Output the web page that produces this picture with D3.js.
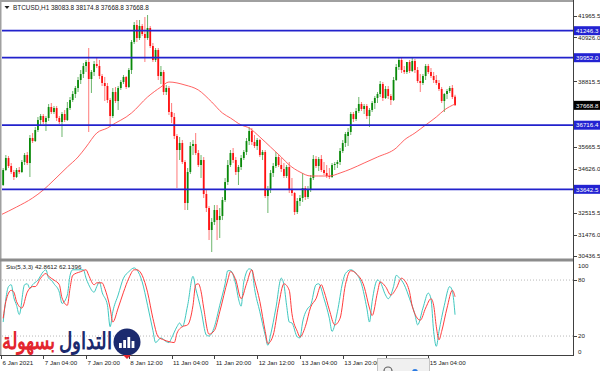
<!DOCTYPE html>
<html>
<head>
<meta charset="utf-8">
<script src="https://cdn.jsdelivr.net/npm/d3@7"></script>
<style>
  body { margin: 0; background: #fff; }
  text { font-family: "Liberation Sans", Arial, sans-serif; }
</style>
</head>
<body>
<svg id="chart" width="600" height="371"></svg>
<script>
// BTCUSD H1 candles, 6 Jan 2021 12:00 -> 15 Jan 2021 14:00
var openP = [
  34089, 33849, 34568, 35143, 34760, 34472, 34233, 34568, 34472, 34952,
  35287, 34904, 36102, 35958, 36486, 36965, 37157, 36869, 37061, 37588,
  37349, 37540, 37061, 36869, 37253, 36965, 37540, 37924, 38212, 38499,
  38883, 39170, 39554, 39746, 38931, 39266, 39650, 39554, 39075, 38739,
  38595, 37924, 37157, 38308, 37876, 38499, 38787, 39027, 38547, 39362,
  40705, 41520, 40896, 41472, 41088, 40896, 41376, 40513, 39842, 40321,
  39075, 39266, 38308, 38499, 37349, 37109, 36198, 35527, 35863, 34952,
  32986, 34472, 35719, 35815, 35383, 34808, 35048, 33418, 32747, 31692,
  32075, 32651, 32171, 32363, 33130, 33993, 34808, 35383, 35048, 34472,
  34712, 35143, 35431, 35958, 36438, 35911, 35719, 36006, 35287, 35431,
  33322, 33609, 34424, 34760, 35191, 34808, 34616, 34281, 34712, 33609,
  33466, 32555, 33082, 33226, 33705, 33274, 33609, 34185, 35096, 34760,
  35096, 34568, 34424, 34281, 34233, 34808, 34856, 34952, 35479, 35863,
  36198, 36390, 37253, 37013, 37397, 37732, 37493, 37636, 37157, 37445,
  37780, 38020, 38212, 38691, 38020, 38451, 38116, 37924, 38883, 39506,
  39842, 39362, 39266, 39746, 39314, 39794, 39362, 38835, 38739, 39075,
  39554, 39266, 39075, 38883, 38739, 38451, 37876, 38212, 38355, 38499,
  38083.8
]
var highP = [
  34281, 34664, 35287, 35239, 34904, 34568, 34664, 34712, 35048, 35383,
  35431, 36246, 36342, 36630, 37109, 37253, 37253, 37157, 37732, 37780,
  37636, 37636, 37157, 37349, 37445, 37828, 38068, 38355, 38595, 39027,
  39362, 39698, 39842, 40417, 39362, 39794, 39985, 39842, 39170, 39027,
  38739, 38020, 38499, 38547, 38595, 38883, 39122, 39075, 39458, 40800,
  41663, 41759, 41759, 41567, 41903, 41999, 41472, 40657, 40417, 40417,
  39554, 39362, 38643, 38595, 37780, 37301, 36294, 36150, 36006, 35048,
  34664, 35911, 36006, 36342, 35527, 35287, 35191, 33609, 32842, 32267,
  32890, 32890, 32747, 33274, 34185, 35048, 35527, 35623, 35191, 34808,
  35287, 35527, 36102, 36630, 36582, 36246, 36102, 36054, 35527, 35527,
  33801, 34568, 34904, 35431, 35287, 35143, 34904, 34808, 34952, 34185,
  33513, 33226, 33370, 34424, 33801, 33801, 34329, 35287, 35239, 35191,
  35287, 34952, 34808, 34664, 34904, 34952, 35048, 35623, 36006, 36390,
  36582, 37349, 37349, 37540, 38068, 37828, 37732, 37732, 37540, 37876,
  38116, 38308, 38835, 38787, 38595, 38595, 38212, 39027, 39650, 39985,
  39937, 39554, 39554, 39842, 39985, 39890, 39506, 39170, 39170, 39650,
  39650, 39458, 39266, 39122, 38883, 38547, 38260, 38451, 38595, 38643,
  38174.8
]
var lowP = [
  33609, 33801, 34520, 34664, 34376, 34089, 34185, 34376, 34424, 34808,
  34808, 34233, 35863, 35911, 36390, 36726, 36773, 36438, 36917, 37253,
  37253, 36917, 36773, 36150, 36869, 36917, 37445, 37828, 38020, 38308,
  38691, 38979, 39266, 36390, 38260, 39075, 39458, 38931, 38595, 37876,
  37780, 36726, 37061, 37780, 37445, 38403, 38691, 38451, 38499, 39170,
  40609, 40705, 40800, 40992, 39746, 40800, 40417, 39746, 39746, 38883,
  38691, 38164, 38164, 37205, 36821, 36054, 33705, 35048, 34856, 32651,
  32651, 34376, 35287, 35287, 34712, 34185, 33226, 32555, 31212, 30637,
  31932, 31212, 31308, 32171, 33034, 33849, 34712, 34904, 34329, 33849,
  34568, 35048, 35287, 35767, 35767, 35623, 35527, 35191, 35048, 33226,
  32507, 33466, 34233, 34664, 34712, 34472, 34185, 34185, 33466, 33322,
  32411, 32459, 32842, 33034, 33130, 33178, 33513, 34089, 34664, 34520,
  34472, 34329, 34185, 34137, 34185, 34568, 34664, 34808, 35383, 35671,
  35719, 36246, 36869, 36917, 37301, 37397, 37253, 37013, 36630, 37349,
  37493, 37780, 38068, 37876, 37972, 37972, 37684, 37876, 38835, 39362,
  39218, 39170, 39170, 39218, 39266, 39218, 38739, 38308, 38643, 38883,
  39170, 38979, 38739, 38643, 38355, 37780, 37349, 37972, 38260, 37972,
  37668.8
]
var closeP = [
  33849, 34568, 35143, 34760, 34472, 34233, 34568, 34472, 34952, 35287,
  34904, 36102, 35958, 36486, 36965, 37157, 36869, 37061, 37588, 37349,
  37540, 37061, 36869, 37253, 36965, 37540, 37924, 38212, 38499, 38883,
  39170, 39554, 39746, 38931, 39266, 39650, 39554, 39075, 38739, 38595,
  37924, 37157, 38308, 37876, 38499, 38787, 39027, 38547, 39362, 40705,
  41520, 40896, 41472, 41088, 40896, 41376, 40513, 39842, 40321, 39075,
  39266, 38308, 38499, 37349, 37109, 36198, 35527, 35863, 34952, 32986,
  34472, 35719, 35815, 35383, 34808, 35048, 33418, 32747, 31692, 32075,
  32651, 32171, 32363, 33130, 33993, 34808, 35383, 35048, 34472, 34712,
  35143, 35431, 35958, 36438, 35911, 35719, 36006, 35287, 35431, 33322,
  33609, 34424, 34760, 35191, 34808, 34616, 34281, 34712, 33609, 33466,
  32555, 33082, 33226, 33705, 33274, 33609, 34185, 35096, 34760, 35096,
  34568, 34424, 34281, 34233, 34808, 34856, 34952, 35479, 35863, 36294,
  36390, 37253, 37013, 37397, 37732, 37493, 37636, 37157, 37445, 37780,
  38020, 38212, 38691, 38020, 38451, 38116, 37924, 38883, 39506, 39842,
  39362, 39266, 39746, 39314, 39794, 39362, 38835, 38739, 39075, 39554,
  39266, 39075, 38883, 38739, 38451, 37876, 38212, 38355, 38499, 38068,
  37668.8
]

// moving average
var maBars = [0, 6, 12, 16, 20, 25, 29, 32, 36, 40, 43, 47, 49, 55, 60, 63, 69, 74, 79, 83, 86,
  90, 93, 97, 101, 105, 108, 112, 116, 119, 123, 127, 131, 136, 141, 148, 151, 155, 159, 163, 166, 170]
var maVals = [32410, 32794, 33226, 33609, 34089, 34712, 35191, 35671, 36342, 36582, 36821, 37109,
  37301, 38068, 38547, 38787, 38643, 38403, 37828, 37301, 37061, 36726, 36582, 36150, 35671, 35191,
  34808, 34472, 34281, 34281, 34281, 34424, 34616, 34904, 35191, 35623, 36006, 36342, 36726, 37109,
  37445, 37732]

// Sto(5,3,3) main and signal
var kBars = [1, 3, 4, 5, 6, 7, 9, 10, 11, 12, 14, 16, 17, 18, 19, 20, 22, 23, 25, 26, 27, 29, 31, 32,
  33, 35, 36, 37, 38, 40, 41, 42, 44, 46, 48, 50, 51, 53, 55, 57, 58, 60, 62, 63, 64, 66, 67, 68, 70,
  72, 73, 74, 75, 77, 78, 80, 82, 84, 85, 86, 88, 89, 90, 91, 93, 94, 95, 97, 99, 100, 101, 103, 105,
  106, 107, 108, 109, 111, 112, 113, 115, 116, 118, 119, 121, 123, 124, 126, 128, 129, 131, 133, 135,
  137, 138, 139, 141, 142, 144, 145, 147, 148, 149, 151, 153, 155, 156, 158, 160, 161, 162, 163, 164,
  166, 168, 169, 170]
var kVals = [35, 73, 75, 61, 53, 43, 75, 76, 71, 75, 80, 89, 91, 82, 80, 76, 67, 55, 64, 85, 91, 91, 91,
  82, 75, 67, 73, 78, 67, 53, 30, 46, 64, 82, 89, 93, 91, 78, 53, 26, 13, 18, 14, 13, 18, 30, 34, 30,
  53, 84, 71, 60, 48, 21, 20, 30, 53, 76, 90, 90, 75, 60, 52, 78, 92, 91, 71, 46, 21, 10, 21, 50, 82,
  75, 53, 35, 34, 19, 18, 35, 50, 53, 75, 76, 60, 39, 25, 46, 78, 87, 91, 87, 76, 50, 35, 57, 80, 78,
  64, 60, 73, 85, 83, 75, 60, 43, 32, 50, 66, 60, 25, 9, 25, 53, 73, 68, 42.8612]
var dBars = [1, 2, 4, 5, 6, 8, 10, 12, 13, 15, 17, 18, 20, 22, 23, 25, 26, 27, 30, 32, 33, 35, 36, 38,
  39, 41, 42, 44, 46, 48, 50, 51, 53, 55, 57, 59, 61, 63, 65, 66, 68, 70, 72, 73, 74, 75, 76, 78, 80,
  82, 85, 86, 88, 90, 92, 94, 95, 97, 99, 100, 102, 104, 106, 108, 109, 111, 112, 114, 116, 118, 120,
  121, 123, 125, 127, 129, 131, 133, 136, 138, 139, 141, 142, 144, 146, 148, 150, 151, 153, 154, 157,
  159, 161, 162, 163, 164, 165, 167, 169, 170]
var dVals = [39, 57, 69, 67, 57, 50, 67, 73, 73, 82, 87, 84, 80, 75, 61, 53, 71, 85, 89, 91, 85, 75, 77,
  77, 71, 50, 35, 50, 67, 82, 91, 91, 85, 67, 39, 19, 16, 14, 13, 23, 30, 32, 53, 75, 76, 68, 50, 22,
  26, 46, 80, 89, 80, 60, 76, 91, 80, 57, 25, 12, 21, 53, 76, 69, 44, 25, 19, 30, 51, 60, 75, 68, 48,
  32, 39, 75, 90, 87, 73, 50, 42, 67, 78, 73, 64, 71, 82, 80, 67, 52, 37, 50, 60, 53, 30, 16, 25, 50,
  69, 62.1396]

var levels = [41246.3, 39952.0, 36716.4, 33642.5]
var priceTicks = [41965.5, 40926.0, 38815.5, 35665.5, 34626.0, 32515.5, 31476.0, 30436.5]
var lastPrice = 37668.8
var stochTicks = [100, 80, 20, 0]
var stochLevels = [80, 20]
var timeBars = [0, 16, 32, 48, 64, 80, 96, 112, 128, 144, 160]
var timeLabels = ['6 Jan 2021', '7 Jan 04:00', '7 Jan 20:00', '8 Jan 12:00', '11 Jan 04:00',
  '11 Jan 20:00', '12 Jan 12:00', '13 Jan 04:00', '13 Jan 20:00', '14 Jan 12:00', '15 Jan 04:00']

var svg = d3.select('#chart')
var axisX = 573

var x = d3.scaleLinear().domain([0, 160]).range([0.5, 428.3])
var y = d3.scaleLinear().domain([30436.5, 41965.5]).range([256.2, 15.7])
var ys = d3.scaleLinear().domain([0, 100]).range([354.7, 261.4])

var defs = svg.append('defs')
defs.append('clipPath').attr('id', 'clipMain')
  .append('rect').attr('x', 2).attr('y', 3).attr('width', axisX - 2).attr('height', 255)
defs.append('clipPath').attr('id', 'clipSub')
  .append('rect').attr('x', 2).attr('y', 262).attr('width', axisX - 2).attr('height', 93)

// ---- main pane
var main = svg.append('g').attr('clip-path', 'url(#clipMain)')

var bars = d3.range(closeP.length).map(i => ({ i: i, o: openP[i], h: highP[i], l: lowP[i], c: closeP[i] }))

main.selectAll('.wick').data(bars).enter().append('line')
  .attr('class', 'wick')
  .attr('x1', d => x(d.i)).attr('x2', d => x(d.i))
  .attr('y1', d => y(d.h)).attr('y2', d => y(d.l))
  .attr('stroke', d => d.c >= d.o ? '#5cae5c' : '#ff6a6a')
  .attr('stroke-width', 0.9)

main.selectAll('.body').data(bars).enter().append('rect')
  .attr('class', 'body')
  .attr('x', d => x(d.i) - 0.9)
  .attr('width', 1.8)
  .attr('y', d => y(Math.max(d.o, d.c)))
  .attr('height', d => Math.max(1, Math.abs(y(d.o) - y(d.c))))
  .attr('fill', d => d.c >= d.o ? '#0a8a0a' : '#ff1010')

var maLine = d3.line().x(d => x(d[0])).y(d => y(d[1])).curve(d3.curveMonotoneX)
main.append('path')
  .datum(maBars.map((b, k) => [b, maVals[k]]))
  .attr('d', maLine)
  .attr('fill', 'none')
  .attr('stroke', '#ff5050')
  .attr('stroke-width', 0.9)

main.selectAll('.level').data(levels).enter().append('line')
  .attr('x1', 2).attr('x2', axisX)
  .attr('y1', d => y(d)).attr('y2', d => y(d))
  .attr('stroke', '#2222cc')
  .attr('stroke-width', 1.8)

// ---- stochastic pane
var sub = svg.append('g').attr('clip-path', 'url(#clipSub)')

sub.selectAll('.slevel').data(stochLevels).enter().append('line')
  .attr('x1', 2).attr('x2', axisX)
  .attr('y1', d => ys(d)).attr('y2', d => ys(d))
  .attr('stroke', '#b8b8b8')
  .attr('stroke-dasharray', '1,2')

var sLine = d3.line().x(d => x(d[0])).y(d => ys(d[1])).curve(d3.curveMonotoneX)
sub.append('path')
  .datum(kBars.map((b, k) => [b, kVals[k]]))
  .attr('d', sLine).attr('fill', 'none')
  .attr('stroke', '#40c8c0').attr('stroke-width', 1)
sub.append('path')
  .datum(dBars.map((b, k) => [b, dVals[k]]))
  .attr('d', sLine).attr('fill', 'none')
  .attr('stroke', '#ff3c3c').attr('stroke-width', 1)

// ---- frames
svg.append('line').attr('x1', 0.5).attr('x2', 0.5).attr('y1', 0).attr('y2', 356)
  .attr('stroke', '#a0a0a0').attr('stroke-width', 2)
svg.append('line').attr('x1', 0).attr('x2', axisX).attr('y1', 1).attr('y2', 1)
  .attr('stroke', '#a0a0a0').attr('stroke-width', 2)
svg.append('rect').attr('x', 0).attr('y', 258.5).attr('width', axisX + 1).attr('height', 3)
  .attr('fill', '#8c8c8c')
svg.append('line').attr('x1', 0).attr('x2', axisX).attr('y1', 355.5).attr('y2', 355.5)
  .attr('stroke', '#404040').attr('stroke-width', 1)
svg.append('line').attr('x1', axisX + 0.5).attr('x2', axisX + 0.5).attr('y1', 0).attr('y2', 356)
  .attr('stroke', '#404040').attr('stroke-width', 1)

// ---- price axis
var pAxis = svg.append('g')
pAxis.selectAll('.pt').data(priceTicks).enter().append('line')
  .attr('x1', axisX + 1).attr('x2', axisX + 4)
  .attr('y1', d => Math.round(y(d)) + 0.5).attr('y2', d => Math.round(y(d)) + 0.5)
  .attr('stroke', '#404040')
pAxis.selectAll('.pl').data(priceTicks).enter().append('text')
  .attr('x', axisX + 5).attr('y', d => y(d) + 2.2)
  .attr('font-size', 6.2).attr('fill', '#202020')
  .text(d => d.toFixed(1))

var lvBox = pAxis.selectAll('.lv').data(levels).enter().append('g')
  .attr('transform', d => 'translate(' + (axisX + 1) + ',' + (y(d) - 4.5) + ')')
lvBox.append('rect').attr('width', 27).attr('height', 9).attr('fill', '#2323d2')
lvBox.append('text').attr('x', 2).attr('y', 6.7).attr('font-size', 6.2).attr('fill', '#fff')
  .text(d => d.toFixed(1))

var lp = pAxis.append('g').attr('transform', 'translate(' + (axisX + 1) + ',' + (y(lastPrice) - 4.5) + ')')
lp.append('rect').attr('width', 27).attr('height', 9).attr('fill', '#000')
lp.append('text').attr('x', 2).attr('y', 6.7).attr('font-size', 6.2).attr('fill', '#fff')
  .text(lastPrice.toFixed(1))

// ---- stoch axis
var sAxis = svg.append('g')
sAxis.selectAll('.st').data(stochTicks).enter().append('text')
  .attr('x', axisX + 5)
  .attr('y', d => d == 100 ? 267.5 : d == 0 ? 354 : ys(d) + 2.2)
  .attr('font-size', 6.2).attr('fill', '#202020')
  .text(d => d)
sAxis.selectAll('.stt').data([80, 20]).enter().append('line')
  .attr('x1', axisX + 1).attr('x2', axisX + 4)
  .attr('y1', d => Math.round(ys(d)) + 0.5).attr('y2', d => Math.round(ys(d)) + 0.5)
  .attr('stroke', '#404040')

// ---- time axis
var tAxis = svg.append('g')
tAxis.selectAll('.tt').data(timeBars).enter().append('line')
  .attr('x1', d => Math.round(x(d)) + 0.5).attr('x2', d => Math.round(x(d)) + 0.5)
  .attr('y1', 356).attr('y2', 359)
  .attr('stroke', '#404040')
tAxis.selectAll('.tl').data(timeBars).enter().append('text')
  .attr('x', (d, k) => k == 0 ? 2.5 : x(d) + 1.5)
  .attr('y', 364.5)
  .attr('font-size', 6.2).attr('fill', '#202020')
  .text((d, k) => timeLabels[k])

// small toolbar box covering part of the time axis
var tb = svg.append('g')
tb.append('rect').attr('x', 377.5).attr('y', 358.5).attr('width', 52).attr('height', 14)
  .attr('fill', '#f0f0f0').attr('stroke', '#c4c4c4')
tb.append('circle').attr('cx', 388).attr('cy', 371).attr('r', 4)
  .attr('fill', 'none').attr('stroke', '#606060').attr('stroke-width', 1.2)
tb.append('circle').attr('cx', 415).attr('cy', 372).attr('r', 3).attr('fill', '#2a7ae2')

// ---- headers
svg.append('path').attr('d', 'M4.5,6 L9.5,6 L7,9 Z').attr('fill', '#202020')
svg.append('text').attr('x', 13).attr('y', 10).attr('font-size', 6.4).attr('fill', '#202020')
  .text('BTCUSD,H1  38083.8 38174.8 37668.8 37668.8')
svg.append('text').attr('x', 6).attr('y', 268.5).attr('font-size', 6.2).attr('fill', '#202020')
  .text('Sto(5,3,3) 42.8612 62.1396')

// ---- watermark logo
var logo = svg.append('g')
function fitWord(txt, right, width, color) {
  var g = logo.append('g').attr('transform', 'translate(' + right + ',349) scale(1,1.25)')
  var t = g.append('text').attr('x', 0).attr('y', 0).attr('text-anchor', 'end')
    .attr('font-family', '"DejaVu Sans", sans-serif').attr('font-weight', 'bold')
    .attr('font-size', 20).attr('fill', color)
    .text(txt)
  var w = t.node().getComputedTextLength()
  if (w > 0) t.attr('font-size', 20 * width / w)
}
fitWord('التداول', 112, 54, '#1b2a6e')
fitWord('بسهولة', 55, 55, '#e3262e')
var icon = logo.append('g').attr('transform', 'translate(127,342)')
icon.append('circle').attr('r', 13.5).attr('fill', '#1b2a6e')
icon.selectAll('rect').data([5, 8, 11, 7]).enter().append('rect')
  .attr('x', (d, k) => -8 + k * 4.2).attr('y', d => 6 - d).attr('width', 2.8).attr('height', d => d)
  .attr('fill', '#fff')
icon.append('path').attr('d', 'M-4,13 L4,13 L0,17 Z').attr('fill', '#e3262e')
</script>
</body>
</html>
